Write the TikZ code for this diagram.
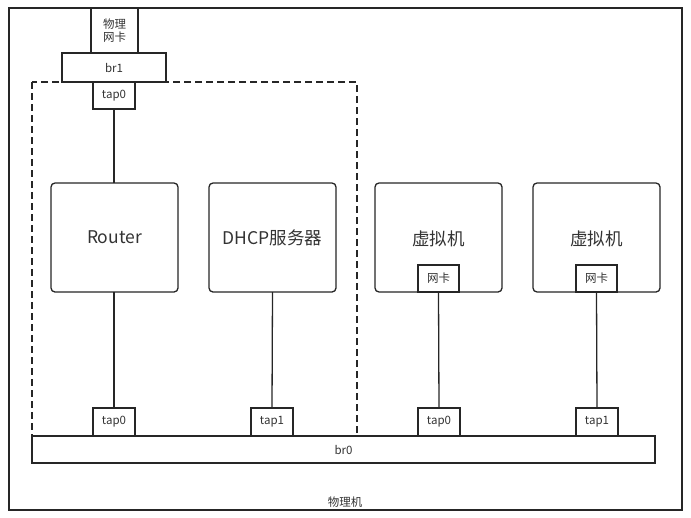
\documentclass[tikz,border=0pt]{standalone}
\usepackage{fontspec}
\setmainfont{Noto Sans CJK SC}
\begin{document}
\begin{tikzpicture}[x=1pt,y=-1pt,
  line width=1.3pt,
  every node/.style={inner sep=0pt, outer sep=0pt},
  box/.style={draw=black!85, fill=white},
  rbox/.style={draw=black!85, fill=white, rounded corners=4pt},
  small/.style={font=\fontsize{11.5}{13.5}\selectfont, text=black!80},
  big/.style={font=\fontsize{17.5}{20}\selectfont, text=black!80},
  link/.style={draw=black!85}]
\useasboundingbox (0,0) rectangle (691,517);
% outer frame
\draw[black!85] (9,8) rectangle (682,510);
\node[small] (host) at (345,502) {物理机};
% dashed box
\draw[black!85, dash pattern=on 7pt off 4pt] (32,82) rectangle (357,436);
% physical nic
\node[box, minimum width=47pt, minimum height=45pt, anchor=north west, align=center, small] (nic) at (91,8) {物理\\网卡};
\node[box, minimum width=104pt, minimum height=29pt, anchor=north west, small] (br1) at (62,53) {br1};
\node[box, minimum width=42pt, minimum height=27pt, anchor=north west, small] (ttop) at (93,82) {tap0};
% br0
\node[box, minimum width=623pt, minimum height=27pt, anchor=north west, small] (br0) at (32,436) {br0};
% taps on br0
\node[box, minimum width=42pt, minimum height=28pt, anchor=north west, small] (t1) at (93,408) {tap0};
\node[box, minimum width=42pt, minimum height=28pt, anchor=north west, small] (t2) at (251,408) {tap1};
\node[box, minimum width=42pt, minimum height=28pt, anchor=north west, small] (t3) at (418,408) {tap0};
\node[box, minimum width=42pt, minimum height=28pt, anchor=north west, small] (t4) at (576,408) {tap1};
% main boxes
\node[rbox, minimum width=127pt, minimum height=109pt, anchor=north west, big] (router) at (51,183) {Router};
\node[rbox, minimum width=127pt, minimum height=109pt, anchor=north west, big] (dhcp) at (209,183) {DHCP服务器};
\node[rbox, minimum width=127pt, minimum height=109pt, anchor=north west] (vm1) at (375,183) {};
\node[rbox, minimum width=127pt, minimum height=109pt, anchor=north west] (vm2) at (533,183) {};
\node[big] (vm1l) at (438.5,239) {虚拟机};
\node[big] (vm2l) at (596.5,239) {虚拟机};
\node[box, minimum width=41pt, minimum height=27pt, anchor=south, small] (n1) at (vm1.south) {网卡};
\node[box, minimum width=41pt, minimum height=27pt, anchor=south, small] (n2) at (vm2.south) {网卡};
% links
\draw[link] (ttop.south) -- (router.north -| ttop.south);
\draw[link] (router.south -| t1.north) -- (t1.north);
\draw[link] (dhcp.south) -- (t2.north);
\draw[link] (n1.south) -- (t3.north);
\draw[link] (n2.south) -- (t4.north);
\end{tikzpicture}
\end{document}
